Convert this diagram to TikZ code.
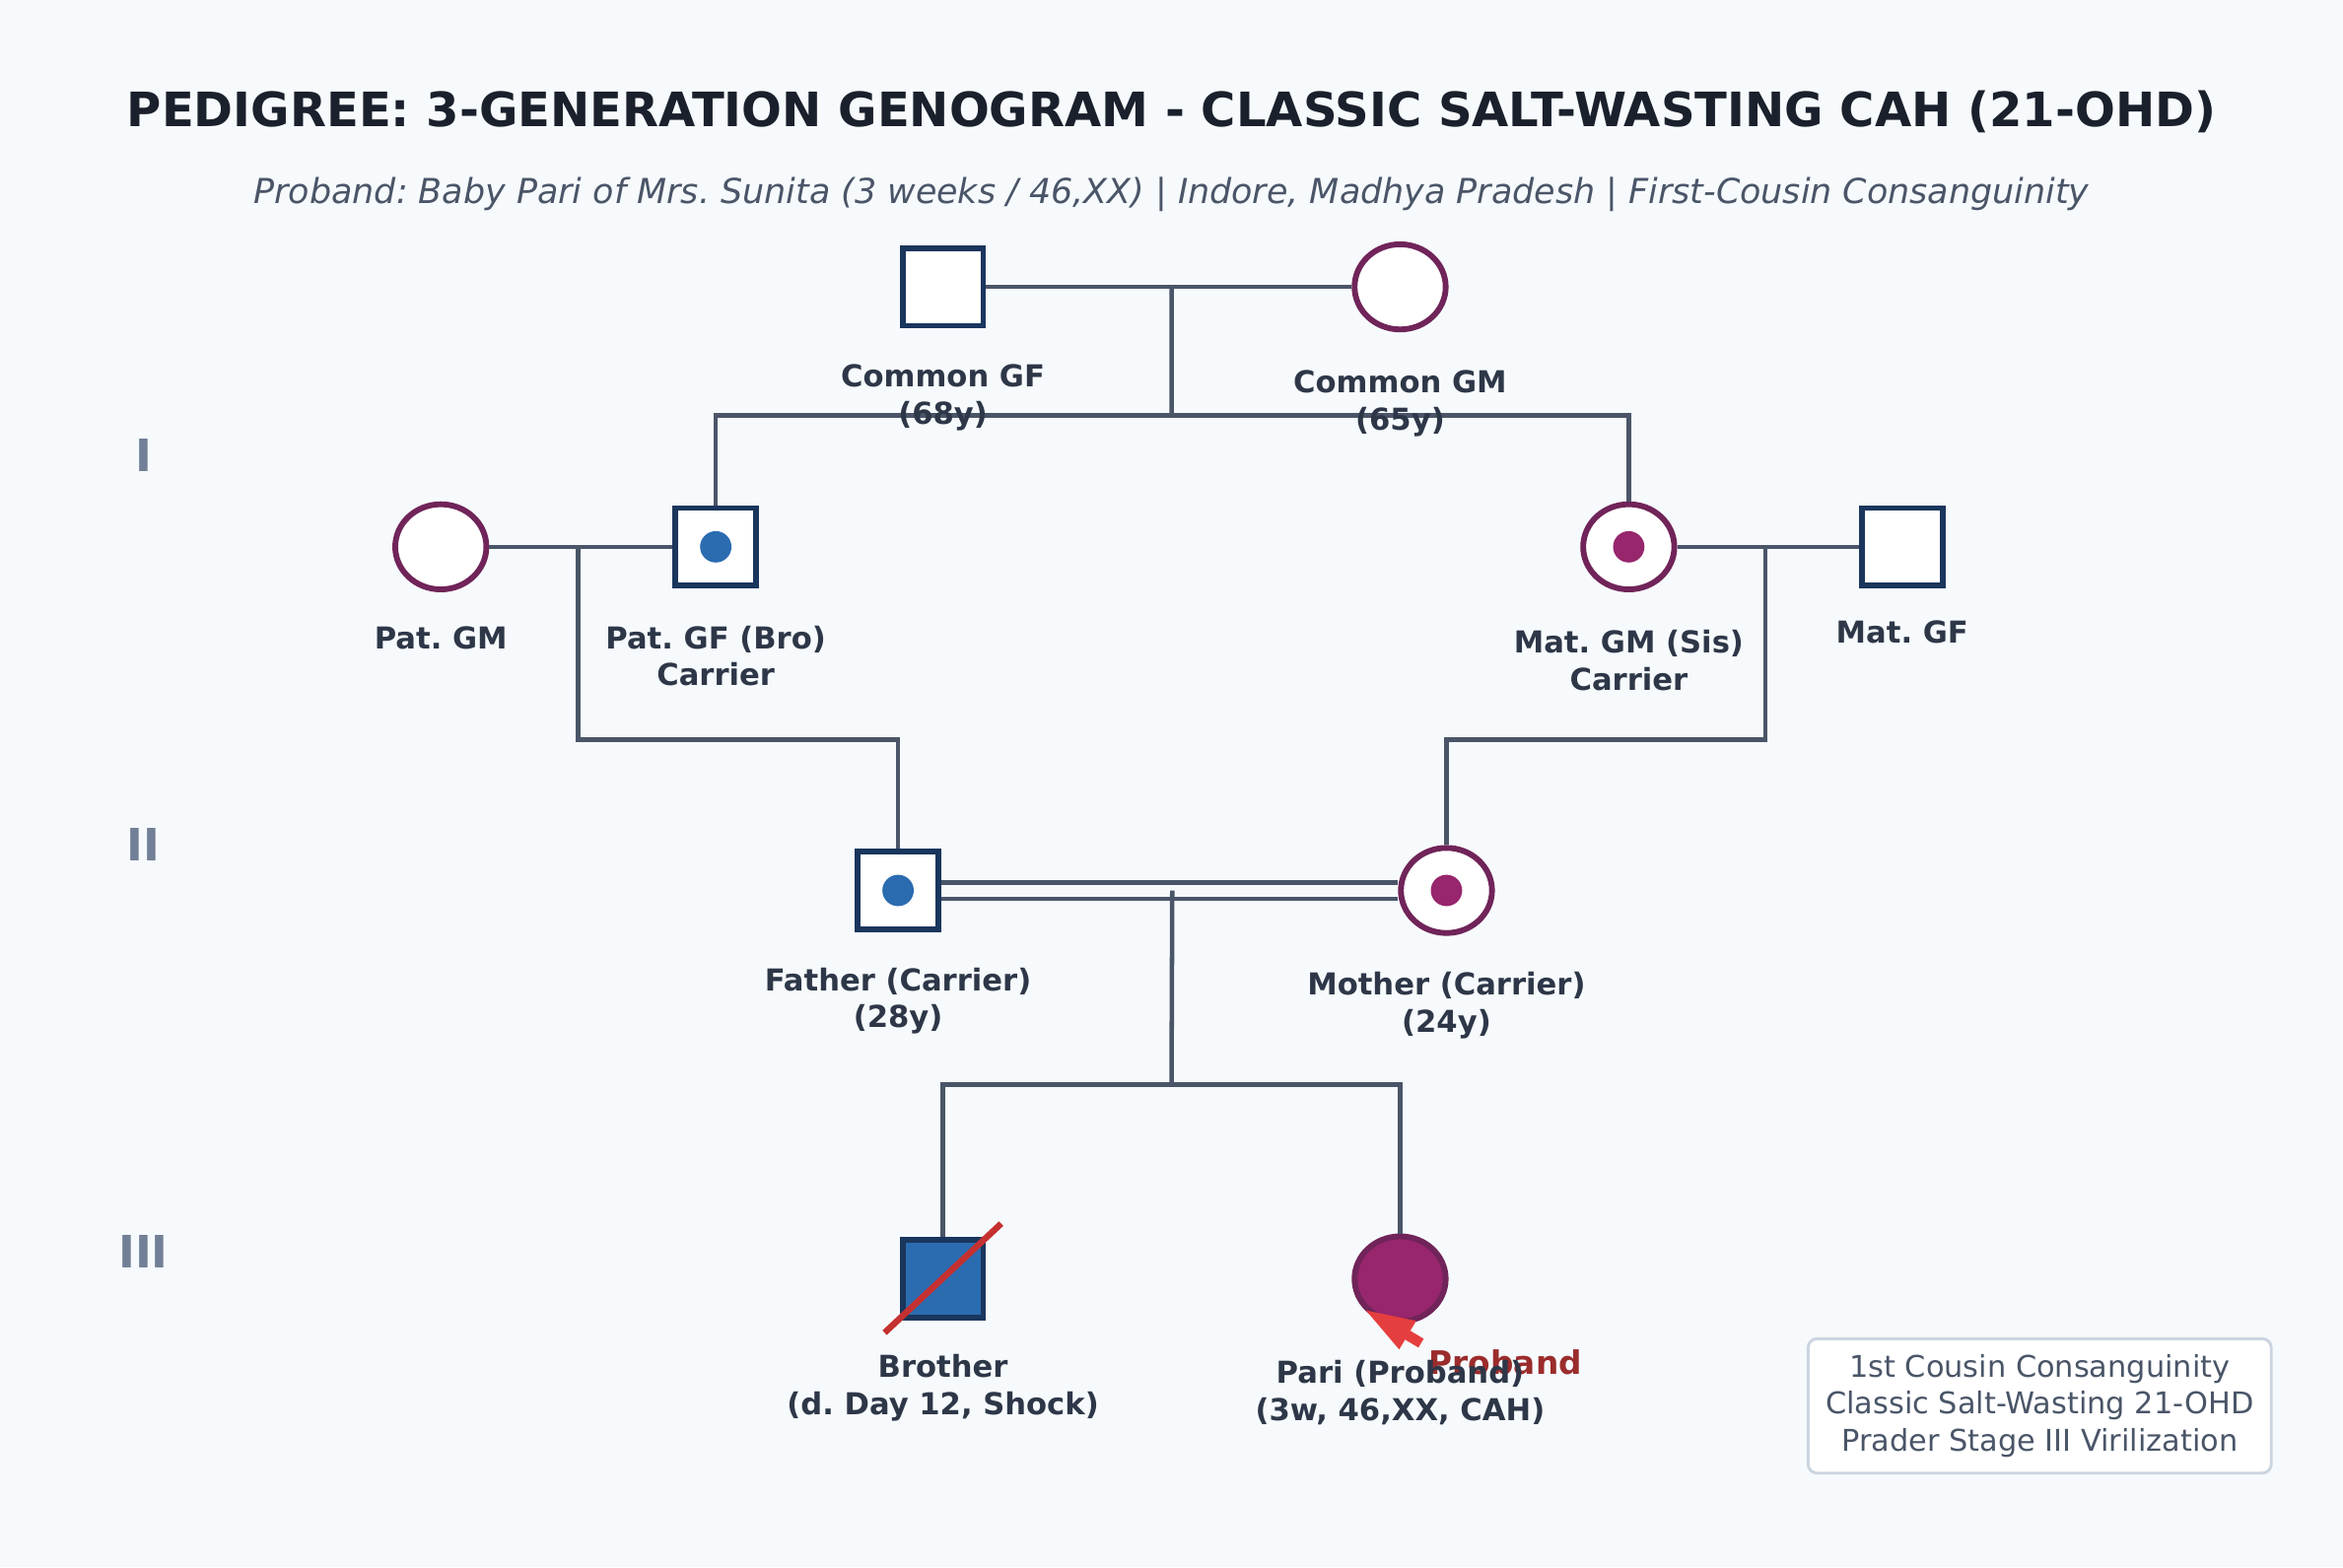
\documentclass[tikz,border=0pt]{standalone}
\usepackage{fontspec}
\setmainfont{DejaVu Sans}
\usepackage{tikz}
\usetikzlibrary{arrows.meta}
\usetikzlibrary{calc}
\usetikzlibrary{positioning}
\usetikzlibrary{shapes.geometric}
\definecolor{mbg}{HTML}{F7FAFC}
\definecolor{mnavy}{HTML}{1A365D}
\definecolor{mplum}{HTML}{702459}
\definecolor{mblue}{HTML}{2B6CB0}
\definecolor{mpurple}{HTML}{97266D}
\definecolor{mline}{HTML}{4A5568}
\definecolor{mtext}{HTML}{2D3748}
\definecolor{mtitle}{HTML}{1A202C}
\definecolor{mgen}{HTML}{718096}
\definecolor{mslash}{HTML}{C53030}
\definecolor{marrow}{HTML}{E53E3E}
\definecolor{mproband}{HTML}{9B2C2C}
\definecolor{mframe}{HTML}{CBD5E0}
\tikzset{male/.style = {rectangle, draw = mnavy, line width = 2.2pt, fill = white,
                        minimum width = 1.08cm, minimum height = 1.04cm, inner sep = 0}}
\tikzset{female/.style = {ellipse, draw = mplum, line width = 2.2pt, fill = white,
                          minimum width = 1.22cm, minimum height = 1.14cm, inner sep = 0}}
\tikzset{bdot/.style = {fill = mblue, circle, inner sep = 0, minimum size = 0.42cm}}
\tikzset{pdot/.style = {fill = mpurple, circle, inner sep = 0, minimum size = 0.42cm}}
\tikzset{lbl/.style = {text = mtext, align = center, inner sep = 0,
                       font = \bfseries\fontsize{11.5}{14.2}\selectfont}}
\tikzset{gen/.style = {text = mgen, inner sep = 0, font = \bfseries\fontsize{17}{20}\selectfont}}
\tikzset{mar/.style = {draw = mline, line width = 1.75pt}}
\tikzset{sline/.style = {draw = mline, line width = 1.7pt}}

\begin{document}
\frenchspacing
\begin{tikzpicture}[x = 0.02cm, y = -0.02cm]
      \fill [mbg] (0, 0) rectangle (1568, 1049);
      \useasboundingbox (0, 0) rectangle (1568, 1049);

      \node [text = mtitle, font = \bfseries\fontsize{18.05}{21}\selectfont] (title) at (784, 75)
        {PEDIGREE: 3-GENERATION GENOGRAM - CLASSIC SALT-WASTING CAH (21-OHD)};
      \node [text = mline, font = \itshape\fontsize{13.1}{15}\selectfont] (sub) at (784, 130)
        {Proband: Baby Pari of Mrs. Sunita (3 weeks / 46,XX) | Indore, Madhya Pradesh | First-Cousin Consanguinity};

      \node [gen] (g1) at (96, 305) {I};
      \node [gen] (g2) at (96, 565) {II};
      \node [gen] (g3) at (96, 838) {III};

      \node [male] (cgf) at (631, 192) {};
      \node [female] (cgm) at (937, 192) {};

      \node [female] (pgm) at (295, 366) {};
      \node [male] (pgf) at (479, 366) {};
      \node [bdot] (pgfd) at (pgf) {};
      \node [female] (mgm) at (1090, 366) {};
      \node [pdot] (mgmd) at (mgm) {};
      \node [male] (mgf) at (1273, 366) {};

      \node [male] (fa) at (601, 596) {};
      \node [bdot] (fad) at (fa) {};
      \node [female] (mo) at (968, 596) {};
      \node [pdot] (mod) at (mo) {};

      \node [male, fill = mblue] (bro) at (631, 856) {};
      \node [female, fill = mpurple] (pari) at (937, 856) {};

      \coordinate (m1) at ($(cgf)!0.5!(cgm)$);
      \coordinate (m2) at ($(pgm)!0.5!(pgf)$);
      \coordinate (m3) at ($(mgm)!0.5!(mgf)$);
      \coordinate (m4) at ($(fa)!0.5!(mo)$);
      \coordinate (sib1) at (784, 278);
      \coordinate (sib2) at (0, 495);
      \coordinate (sib3) at (784, 726);

      \draw [mar] (cgf) -- (cgm);
      \draw [sline] (m1) -- (sib1);
      \draw [sline] (pgf) |- (sib1) -| (mgm);

      \draw [mar] (pgm) -- (pgf);
      \draw [mar] (mgm) -- (mgf);
      \draw [sline] (m2) |- (sib2 -| fa) -- (fa);
      \draw [sline] (m3) |- (sib2 -| mo) -- (mo);

      \draw [mar, double = mbg, double distance = 4.5pt] (fa) -- (mo);
      \draw [sline] (m4) -- (sib3);
      \draw [sline] (bro) |- (sib3) -| (pari);

      \draw [mslash, line width = 2.4pt] ([shift = {(-39, 36)}]bro.center) -- ([shift = {(39, -37)}]bro.center);

      \coordinate (ptail) at (951, 899);
      \draw [marrow, line width = 3.9pt, -{Triangle[length = 0.68cm, width = 0.4cm]}] (ptail) -- (pari.220);
      \node [text = mproband, anchor = west, inner sep = 0,
             font = \bfseries\fontsize{12.3}{14}\selectfont] (prl) at (956, 912) {Proband};

      \node [lbl] (cgfl) at (631, 266) {Common GF\\(68y)};
      \node [lbl] (cgml) at (937, 270) {Common GM\\(65y)};
      \node [lbl] (pgml) at (295, 427) {Pat. GM};
      \node [lbl] (pgfl) at (479, 439) {Pat. GF (Bro)\\Carrier};
      \node [lbl] (mgml) at (1090, 442) {Mat. GM (Sis)\\Carrier};
      \node [lbl] (mgfl) at (1273, 423) {Mat. GF};
      \node [lbl] (fal) at (601, 670) {Father (Carrier)\\(28y)};
      \node [lbl] (mol) at (968, 673) {Mother (Carrier)\\(24y)};
      \node [lbl] (brol) at (631, 929) {Brother\\(d. Day 12, Shock)};
      \node [lbl] (paril) at (937, 932) {Pari (Proband)\\(3w, 46,XX, CAH)};

      \node [draw = mframe, line width = 1.1pt, fill = white, rounded corners = 0.12cm,
             minimum width = 6.2cm, minimum height = 1.8cm, align = center, text = mline,
             font = \fontsize{11.4}{14.2}\selectfont] (leg) at (1365, 941)
        {1st Cousin Consanguinity\\Classic Salt-Wasting 21-OHD\\Prader Stage III Virilization};
    \end{tikzpicture}
\end{document}
